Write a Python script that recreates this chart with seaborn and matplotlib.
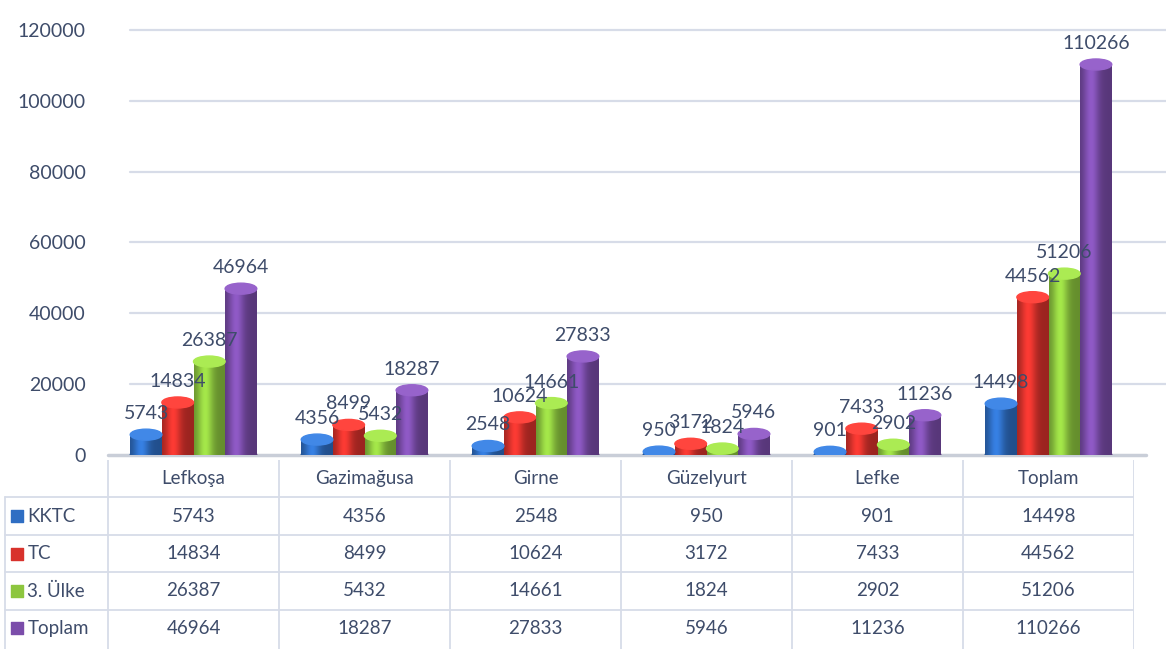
import matplotlib
matplotlib.use("Agg")
import matplotlib.pyplot as plt
import matplotlib.colors as mcolors
from matplotlib.patches import Ellipse
import seaborn as sns
import pandas as pd
import numpy as np

# veriler
ilceler = ["Lefkoşa", "Gazimağusa", "Girne", "Güzelyurt", "Lefke", "Toplam"]
gruplar = ["KKTC", "TC", "3. Ülke", "Toplam"]
kktc = [5743, 4356, 2548, 950, 901, 14498]
tc = [14834, 8499, 10624, 3172, 7433, 44562]
ulke3 = [26387, 5432, 14661, 1824, 2902, 51206]
toplam = [46964, 18287, 27833, 5946, 11236, 110266]
y_ticks = [0, 20000, 40000, 60000, 80000, 100000, 120000]

renkler = ["#2F6EC3", "#D8322C", "#8DC63F", "#7B4DAA"]
yazi_rengi = "#3E4C6A"
cizgi_rengi = "#D7DCE8"

seriler = [kktc, tc, ulke3, toplam]
df = pd.DataFrame({
    "ilce": ilceler * 4,
    "grup": np.repeat(gruplar, len(ilceler)),
    "deger": kktc + tc + ulke3 + toplam,
})

sns.set_theme(style="white")
plt.rcParams["font.family"] = ["Lato", "DejaVu Sans"]

W, H = 1166, 649
fig = plt.figure(figsize=(W / 100, H / 100), dpi=100)

# grafik alanı (tablo sütunlarıyla hizalı)
x0, col_w = 108, 171
ax_w = 6 * col_w
ax = fig.add_axes([x0 / W, 1 - 455 / H, ax_w / W, (455 - 30) / H])
sns.barplot(data=df, x="ilce", y="deger", hue="grup", palette=renkler,
            width=0.74, saturation=1, legend=False, ax=ax, zorder=3)
ax.set_yticks(y_ticks)
ax.set_yticklabels([str(t) for t in y_ticks], color=yazi_rengi, fontsize=14)
ax.tick_params(axis="y", length=0, pad=16)
ax.set_xticks([])
ax.set_xlabel("")
ax.set_ylabel("")
for s in ax.spines.values():
    s.set_visible(False)
for t in y_ticks[1:]:
    ax.axhline(t, xmin=22 / ax_w, xmax=(W - x0) / ax_w, color=cizgi_rengi,
               lw=1.6, zorder=0, clip_on=False)
ax.axhline(0, xmin=0, xmax=(W - x0 - 20) / ax_w, color="#C9CED8", lw=2.5,
           zorder=1, clip_on=False)

# silindir görünümü
px_per_unit = 425 / 120000
cap_h = 11 / px_per_unit
for container, renk in zip(ax.containers, renkler):
    base = np.array(mcolors.to_rgb(renk))
    for p in container:
        x, w, h = p.get_x(), p.get_width(), p.get_height()
        p.set_alpha(0)
        xs = np.linspace(0, 1, 60)
        shade = 0.72 + 0.45 * np.exp(-((xs - 0.35) ** 2) / 0.06)
        grad = np.clip(base[None, :] * shade[:, None], 0, 1)[None, :, :]
        ax.imshow(grad, extent=[x, x + w, 0, h], aspect="auto", zorder=3,
                  interpolation="bicubic")
        ax.add_patch(Ellipse((x + w / 2, 0), w, cap_h, color=base * 0.75, zorder=2.9))
        top = np.clip(base * 1.12 + 0.05, 0, 1)
        ax.add_patch(Ellipse((x + w / 2, h), w, cap_h, color=top, zorder=4))
    ax.bar_label(container, labels=[str(int(v.get_height())) for v in container],
                 padding=9, color=yazi_rengi, fontsize=14, zorder=5)
ax.set_xlim(-0.5, 5.5)
ax.set_ylim(0, 120000)

# veri tablosu
tax = fig.add_axes([0, 0, (x0 + ax_w) / W, (H - 460) / H])
tax.set_xlim(-x0 / col_w, 6)
tax.set_ylim(5.05, 0)
tax.axis("off")
for i, ad in enumerate(ilceler):
    tax.text(i + 0.5, 0.5, ad, ha="center", va="center", fontsize=13.5, color=yazi_rengi)
for r, (ad, seri, renk) in enumerate(zip(gruplar, seriler, renkler)):
    y = r + 1.5
    tax.scatter([-x0 / col_w + 0.1], [y], marker="s", s=75, color=renk, clip_on=False)
    tax.text(-x0 / col_w + 0.16, y, ad, ha="left", va="center", fontsize=13.5, color=yazi_rengi)
    for i, v in enumerate(seri):
        tax.text(i + 0.5, y, str(v), ha="center", va="center", fontsize=13.5, color=yazi_rengi)
for r in range(1, 5):
    tax.plot([-x0 / col_w + 0.03, 6], [r, r], color=cizgi_rengi, lw=1.3)
for i in range(7):
    tax.plot([i, i], [0, 5.05], color=cizgi_rengi, lw=1.3)
tax.plot([-x0 / col_w + 0.03] * 2, [1, 5.05], color=cizgi_rengi, lw=1.3)

fig.savefig("out.png", dpi=100)
